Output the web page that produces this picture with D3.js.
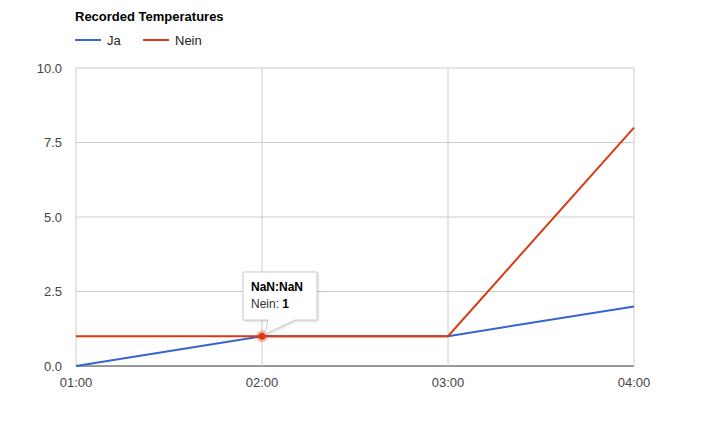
<!DOCTYPE html>
<html><head><meta charset="utf-8">
<script src="https://cdn.jsdelivr.net/npm/d3@7"></script>
<style>body{margin:0;background:#fff}text{font-family:Arial,"Liberation Sans",sans-serif}</style>
</head><body><svg width="711" height="430"></svg>
<script>
const times = ['01:00', '02:00', '03:00', '04:00'];
const ja = [0, 1, 1, 2];
const nein = [1, 1, 1, 8];
const yTicks = [0, 2.5, 5, 7.5, 10];

const svg = d3.select('svg');
const x = d3.scalePoint().domain(times).range([76, 634]);
const y = d3.scaleLinear().domain([0, 10]).range([366, 68]);

// grid
svg.selectAll('.hg').data(yTicks).join('line')
    .attr('x1', 76).attr('x2', 634)
    .attr('y1', d => y(d)).attr('y2', d => y(d))
    .attr('stroke', d => d === 0 ? '#333' : '#ccc');
svg.selectAll('.vg').data(times).join('line')
    .attr('x1', d => x(d)).attr('x2', d => x(d))
    .attr('y1', 68).attr('y2', 366)
    .attr('stroke', '#ccc');
svg.selectAll('.yl').data(yTicks).join('text')
    .attr('x', 62).attr('y', d => y(d) + 4.5)
    .attr('text-anchor', 'end').attr('font-size', 13).attr('fill', '#444')
    .text(d => d.toFixed(1));
svg.selectAll('.xl').data(times).join('text')
    .attr('x', d => x(d)).attr('y', 387)
    .attr('text-anchor', 'middle').attr('font-size', 13).attr('fill', '#444')
    .text(d => d);

const line = d3.line().x((d, i) => x(times[i])).y(d => y(d));
const series = [{name: 'Ja', data: ja, color: '#3366cc'}, {name: 'Nein', data: nein, color: '#dc3912'}];
svg.selectAll('.ln').data(series).join('path')
    .attr('d', d => line(d.data)).attr('fill', 'none')
    .attr('stroke', d => d.color).attr('stroke-width', 2);

// title + legend
svg.append('text').attr('x', 75).attr('y', 21).attr('font-size', 13).attr('font-weight', 'bold').text('Recorded Temperatures');
const lg = svg.selectAll('.lg').data(series).join('g')
    .attr('transform', (d, i) => `translate(${75 + i * 68},40)`);
lg.append('line').attr('x1', 0).attr('x2', 26).attr('stroke', d => d.color).attr('stroke-width', 2);
lg.append('text').attr('x', 32).attr('y', 5).attr('font-size', 13).attr('fill', '#222').text(d => d.name);

// highlighted point + tooltip
const px = x(times[1]), py = y(nein[1]);
svg.append('circle').attr('cx', px).attr('cy', py).attr('r', 6).attr('fill', '#dc3912').attr('opacity', 0.3);
svg.append('circle').attr('cx', px).attr('cy', py).attr('r', 3.5).attr('fill', '#dc3912');
const tt = svg.append('g');
tt.append('path')
    .attr('d', `M243,272H317V320H295L${px + 3},${py - 2}L268,320H243Z`)
    .attr('fill', '#fff').attr('stroke', '#ccc')
    .style('filter', 'drop-shadow(1px 1px 1px rgba(0,0,0,0.15))');
tt.append('text').attr('x', 251).attr('y', 291).attr('font-size', 12).attr('font-weight', 'bold').text('NaN:NaN');
const t2 = tt.append('text').attr('x', 251).attr('y', 308).attr('font-size', 12).attr('fill', '#333');
t2.append('tspan').text('Nein: ');
t2.append('tspan').attr('font-weight', 'bold').attr('fill', '#000').text(nein[1]);
</script></body></html>
